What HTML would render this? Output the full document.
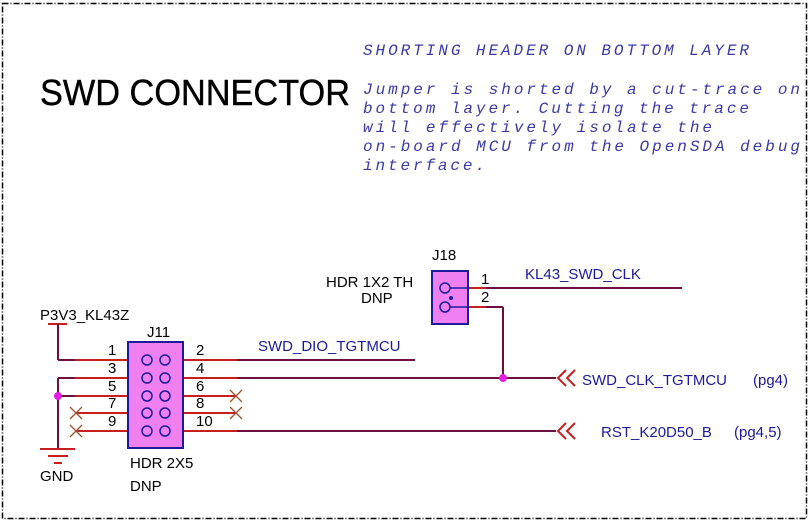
<!DOCTYPE html>
<html><head><meta charset="utf-8"><style>
html,body{margin:0;padding:0;background:#fff;}
svg{display:block;}
.m{font-family:"Liberation Mono",monospace;font-style:italic;font-size:16px;fill:#3a3aa8;}
.s{font-family:"Liberation Sans",sans-serif;font-size:15px;}
.b{fill:#1a1a9a;}
</style></head><body>
<svg width="810" height="523" viewBox="0 0 810 523" xmlns="http://www.w3.org/2000/svg">
<rect x="2.5" y="3.5" width="804" height="515" fill="none" stroke="#000" stroke-width="1.5" stroke-dasharray="6,2,1,2"/>
<text x="40" y="105" font-family="Liberation Sans,sans-serif" font-size="36" stroke="#000" stroke-width="0.4" textLength="310" lengthAdjust="spacingAndGlyphs">SWD CONNECTOR</text>
<text class="m" x="363" y="55" textLength="386" lengthAdjust="spacing">SHORTING  HEADER  ON  BOTTOM  LAYER</text>
<text class="m" x="363" y="94" textLength="437" lengthAdjust="spacing">Jumper is shorted by a cut-trace on</text>
<text class="m" x="363" y="113" textLength="386" lengthAdjust="spacing">bottom layer. Cutting the trace</text>
<text class="m" x="363" y="132" textLength="349" lengthAdjust="spacing">will  effectively  isolate  the</text>
<text class="m" x="363" y="151" textLength="437" lengthAdjust="spacing">on-board MCU from the OpenSDA debug</text>
<text class="m" x="363" y="170" textLength="122" lengthAdjust="spacing">interface.</text>

<g stroke="#6b1040" stroke-width="2" fill="none">
<line x1="48" y1="324" x2="67" y2="324" stroke="#c81e1e"/>
<line x1="58" y1="324" x2="58" y2="360"/>
<line x1="58" y1="360" x2="128" y2="360"/>
<line x1="58" y1="378" x2="128" y2="378"/>
<line x1="58" y1="378" x2="58" y2="449"/>
<line x1="58" y1="396" x2="128" y2="396"/>
<line x1="183" y1="360" x2="415" y2="360"/>
<line x1="183" y1="378" x2="556" y2="378"/>
<line x1="183" y1="431" x2="556" y2="431"/>
<line x1="468" y1="288" x2="682" y2="288"/>
<line x1="468" y1="307" x2="503" y2="307"/>
<line x1="503" y1="307" x2="503" y2="378"/>
</g>
<g stroke="#c81e1e" stroke-width="2">
<line x1="75" y1="360" x2="128" y2="360"/><line x1="75" y1="378" x2="128" y2="378"/><line x1="75" y1="396" x2="128" y2="396"/>
<line x1="76" y1="413" x2="128" y2="413"/><line x1="76" y1="431" x2="128" y2="431"/>
<line x1="183" y1="360" x2="237" y2="360"/><line x1="183" y1="378" x2="237" y2="378"/><line x1="183" y1="396" x2="236" y2="396"/>
<line x1="183" y1="413" x2="236" y2="413"/><line x1="183" y1="431" x2="237" y2="431"/>
<line x1="468" y1="288" x2="486" y2="288"/><line x1="468" y1="307" x2="486" y2="307"/>
<line x1="40" y1="449" x2="75" y2="449"/><line x1="48" y1="456" x2="68" y2="456"/><line x1="54" y1="463" x2="62" y2="463"/>
</g>
<g stroke="#a0522d" stroke-width="1.3">
<path d="M70 407l12 12M82 407l-12 12M70 425l12 12M82 425l-12 12M230 390l12 12M242 390l-12 12M230 407l12 12M242 407l-12 12"/>
</g>
<circle cx="58" cy="396" r="4" fill="#e020e0"/>
<circle cx="503" cy="378" r="4" fill="#e020e0"/>
<rect x="128" y="342" width="55" height="106" fill="#f080f0" stroke="#1a1a9a" stroke-width="2"/>
<g fill="none" stroke="#1a1a9a" stroke-width="1.5">
<circle cx="147" cy="360" r="5"/><circle cx="165" cy="360" r="5"/>
<circle cx="147" cy="378" r="5"/><circle cx="165" cy="378" r="5"/>
<circle cx="147" cy="396" r="5"/><circle cx="165" cy="396" r="5"/>
<circle cx="147" cy="413" r="5"/><circle cx="165" cy="413" r="5"/>
<circle cx="147" cy="431" r="5"/><circle cx="165" cy="431" r="5"/>
</g>
<rect x="432" y="271" width="36" height="53" fill="#f080f0" stroke="#1a1a9a" stroke-width="2"/>
<g fill="none" stroke="#1a1a9a" stroke-width="1.5">
<circle cx="445" cy="288" r="5"/><circle cx="445" cy="307" r="5"/>
<line x1="450" y1="288" x2="468" y2="288"/><line x1="450" y1="307" x2="468" y2="307"/>
</g>
<circle cx="451" cy="298" r="2" fill="#1a1a9a"/>
<g stroke="#c81e1e" stroke-width="2" fill="none">
<path d="M566 370l-8 8 8 8M575 370l-8 8 8 8"/>
<path d="M566 423l-8 8 8 8M575 423l-8 8 8 8"/>
</g>
<g class="s">
<text x="40" y="320">P3V3_KL43Z</text>
<text x="147" y="337">J11</text>
<text x="108" y="355">1</text><text x="108" y="373">3</text><text x="108" y="391">5</text><text x="108" y="408">7</text><text x="108" y="426">9</text>
<text x="196" y="355">2</text><text x="196" y="373">4</text><text x="196" y="391">6</text><text x="196" y="408">8</text><text x="196" y="426">10</text>
<text x="130" y="468">HDR 2X5</text>
<text x="130" y="491">DNP</text>
<text x="40" y="481">GND</text>
<text x="432" y="260">J18</text>
<text x="326" y="287">HDR 1X2 TH</text>
<text x="361" y="303">DNP</text>
<text x="481" y="284">1</text><text x="481" y="302">2</text>
<text class="b" x="525" y="279">KL43_SWD_CLK</text>
<text class="b" x="258" y="351">SWD_DIO_TGTMCU</text>
<text class="b" x="582" y="385">SWD_CLK_TGTMCU</text>
<text class="b" x="753" y="385">(pg4)</text>
<text class="b" x="601" y="437">RST_K20D50_B</text>
<text class="b" x="734" y="437">(pg4,5)</text>
</g>
</svg>
</body></html>
